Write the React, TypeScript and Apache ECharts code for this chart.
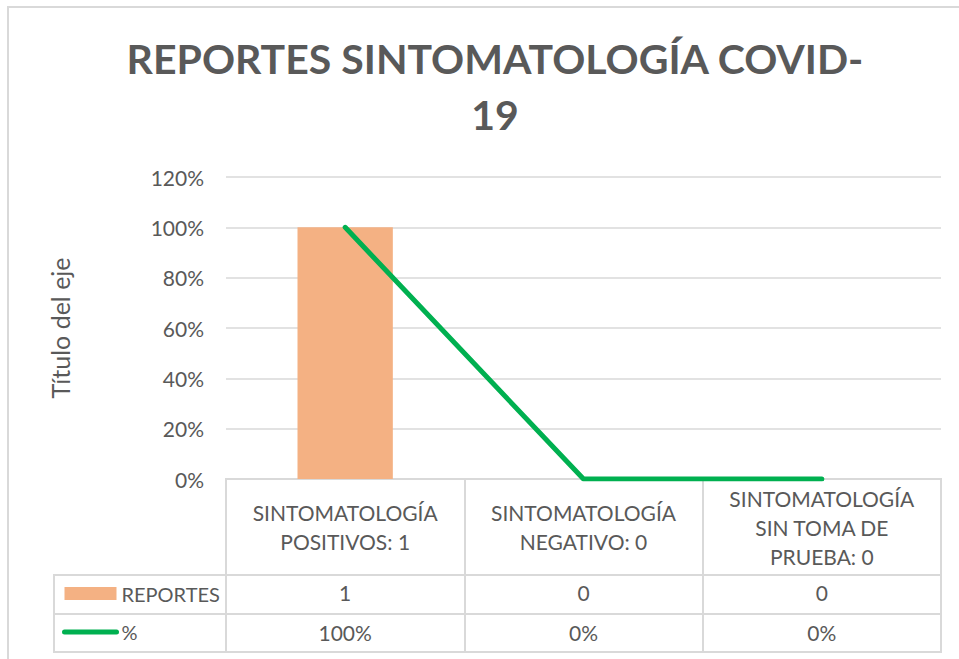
import React, { useEffect, useRef } from "react";
import * as echarts from "echarts";

const TITLE = "REPORTES SINTOMATOLOGÍA COVID-\n19";
const CATEGORIES = [
  "SINTOMATOLOGÍA\nPOSITIVOS: 1",
  "SINTOMATOLOGÍA\nNEGATIVO: 0",
  "SINTOMATOLOGÍA\nSIN TOMA DE\nPRUEBA: 0",
];
const REPORTES = [1, 0, 0];
const PERCENT = [1, 0, 0];
const SERIES_NAMES = ["REPORTES", "%"];
const Y_AXIS_NAME = "Título del eje";
const Y_TICKS = { min: 0, max: 1.2, interval: 0.2 };

const FONT = "Lato";
const TXT = "#595959";
const LINE = "#D9D9D9";
const BAR_COLOR = "#F4B183";
const LINE_COLOR = "#00B050";

const pct = (v: number) => `${Math.round(v * 100)}%`;

export default function App() {
  const ref = useRef<HTMLDivElement>(null);
  useEffect(() => {
    if (!ref.current) return;
    const chart = echarts.init(ref.current, null, { renderer: "svg" });
    const bare = {
      axisLine: { show: false },
      axisTick: { show: false },
    };
    chart.setOption({
      animation: false,
      backgroundColor: "#ffffff",
      textStyle: { fontFamily: FONT },
      title: {
        text: TITLE,
        left: 490,
        top: 25,
        textAlign: "center",
        textStyle: {
          fontFamily: FONT,
          fontWeight: "bold",
          fontSize: 41,
          lineHeight: 56,
          color: TXT,
        },
      },
      graphic: [
        {
          type: "rect",
          shape: { x: 8, y: 7, width: 1000, height: 700 },
          style: { fill: "none", stroke: LINE, lineWidth: 2 },
          silent: true,
        },
      ],
      legend: {
        orient: "vertical",
        left: 57,
        top: 578,
        itemWidth: 52,
        itemHeight: 13,
        itemGap: 17.5,
        textStyle: { fontFamily: FONT, fontSize: 20, lineHeight: 21, color: TXT },
        lineStyle: { width: 5, cap: "round" },
        data: [
          { name: SERIES_NAMES[0], icon: "rect" },
          { name: SERIES_NAMES[1], itemStyle: { opacity: 0, borderWidth: 0 } },
        ],
        selectedMode: false,
      },
      grid: [
        { left: 226, width: 715, top: 177, height: 302, show: false },
        { left: 226, width: 715, top: 479, height: 96, show: true, borderColor: LINE, borderWidth: 2 },
        { left: 226, width: 715, top: 575, height: 77, show: true, borderColor: LINE, borderWidth: 2 },
        { left: 54, width: 172, top: 575, height: 77, show: true, borderColor: LINE, borderWidth: 2 },
      ],
      xAxis: [
        {
          type: "category",
          gridIndex: 0,
          data: CATEGORIES,
          ...bare,
          axisLabel: {
            interval: 0,
            margin: 48,
            verticalAlign: "middle",
            fontFamily: FONT,
            fontSize: 21,
            lineHeight: 29,
            color: TXT,
            align: "center",
          },
        },
        {
          type: "category",
          gridIndex: 1,
          data: CATEGORIES,
          position: "top",
          ...bare,
          axisLabel: { show: false },
          splitLine: { show: true, lineStyle: { color: LINE, width: 2 } },
        },
        {
          type: "category",
          gridIndex: 2,
          data: CATEGORIES,
          position: "top",
          ...bare,
          axisLabel: {
            inside: true,
            interval: 0,
            margin: 17,
            verticalAlign: "middle",
            fontFamily: FONT,
            fontSize: 21,
            color: TXT,
            formatter: (_v: string, i: number) => String(REPORTES[i]),
          },
          splitLine: { show: true, lineStyle: { color: LINE, width: 2 } },
        },
        {
          type: "category",
          gridIndex: 2,
          data: CATEGORIES,
          position: "bottom",
          ...bare,
          axisLabel: {
            inside: true,
            interval: 0,
            margin: 19.5,
            verticalAlign: "middle",
            fontFamily: FONT,
            fontSize: 21,
            color: TXT,
            formatter: (_v: string, i: number) => pct(PERCENT[i]),
          },
        },
        {
          type: "category",
          gridIndex: 3,
          data: [""],
          ...bare,
          axisLabel: { show: false },
        },
      ],
      yAxis: [
        {
          type: "value",
          gridIndex: 0,
          min: Y_TICKS.min,
          max: Y_TICKS.max,
          interval: Y_TICKS.interval,
          ...bare,
          axisLabel: {
            margin: 22,
            fontFamily: FONT,
            fontSize: 21,
            color: TXT,
            formatter: (v: number) => pct(v),
          },
          splitLine: { show: true, lineStyle: { color: LINE, width: 1.5 } },
          name: Y_AXIS_NAME,
          nameLocation: "middle",
          nameGap: 154,
          nameRotate: 90,
          nameTextStyle: { fontFamily: FONT, fontSize: 25, color: TXT },
        },
        {
          type: "category",
          gridIndex: 2,
          data: SERIES_NAMES,
          inverse: true,
          ...bare,
          axisLabel: { show: false },
          splitLine: { show: true, lineStyle: { color: LINE, width: 2 } },
        },
        {
          type: "category",
          gridIndex: 3,
          data: SERIES_NAMES,
          inverse: true,
          ...bare,
          axisLabel: { show: false },
          splitLine: { show: true, lineStyle: { color: LINE, width: 2 } },
        },
        {
          type: "value",
          gridIndex: 1,
          ...bare,
          axisLabel: { show: false },
          splitLine: { show: false },
        },
      ],
      series: [
        {
          name: SERIES_NAMES[0],
          type: "bar",
          xAxisIndex: 0,
          yAxisIndex: 0,
          data: REPORTES,
          barWidth: "40%",
          itemStyle: { color: BAR_COLOR },
        },
        {
          name: SERIES_NAMES[1],
          type: "line",
          xAxisIndex: 0,
          yAxisIndex: 0,
          data: PERCENT,
          symbol: "none",
          color: LINE_COLOR,
          lineStyle: { color: LINE_COLOR, width: 5, cap: "round", join: "round" },
        },
      ],
    });
    return () => chart.dispose();
  }, []);
  return (
    <div
      ref={ref}
      style={{ position: "fixed", left: 0, top: 0, width: 959, height: 659 }}
    />
  );
}
